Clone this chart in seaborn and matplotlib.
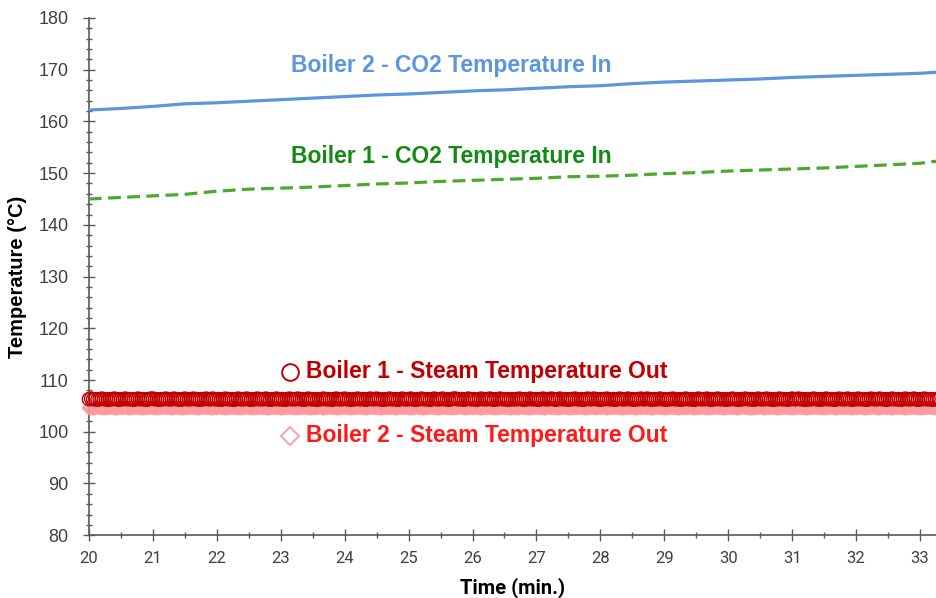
import numpy as np
import pandas as pd
import matplotlib
matplotlib.use("Agg")
import matplotlib.pyplot as plt
import seaborn as sns
from matplotlib.ticker import MultipleLocator

# CO2 inlet temperatures, read every 0.5 min
co2_time = [20.0, 20.5, 21.0, 21.5, 22.0, 22.5, 23.0, 23.5, 24.0, 24.5, 25.0, 25.5, 26.0, 26.5,
            27.0, 27.5, 28.0, 28.5, 29.0, 29.5, 30.0, 30.5, 31.0, 31.5, 32.0, 32.5, 33.0, 33.25]
boiler2_co2_in = [162.2, 162.5, 162.9, 163.4, 163.6, 163.9, 164.2, 164.5, 164.8, 165.1, 165.3, 165.6,
                  165.9, 166.1, 166.4, 166.7, 166.9, 167.3, 167.6, 167.8, 168.0, 168.2, 168.5, 168.7,
                  168.9, 169.1, 169.3, 169.5]
boiler1_co2_in = [145.0, 145.3, 145.6, 145.9, 146.5, 146.9, 147.1, 147.3, 147.6, 147.9, 148.1, 148.4,
                  148.6, 148.8, 149.0, 149.3, 149.4, 149.6, 149.9, 150.1, 150.4, 150.6, 150.8, 151.0,
                  151.3, 151.6, 151.9, 152.3]

# steam outlet temperatures, logged every 2 s
steam_time = 20 + np.arange(400) * 2 / 60
boiler1_steam_out = [
    106.3, 106.4, 106.3, 106.3, 106.2, 106.3, 106.4, 106.3, 106.3, 106.2, 106.3, 106.3, 106.4, 106.3, 106.2, 106.3, 106.3, 106.4, 106.3, 106.3,
    106.3, 106.2, 106.3, 106.4, 106.3, 106.3, 106.3, 106.2, 106.3, 106.4, 106.4, 106.3, 106.3, 106.2, 106.3, 106.3, 106.4, 106.3, 106.3, 106.3,
    106.4, 106.3, 106.3, 106.2, 106.3, 106.4, 106.3, 106.3, 106.3, 106.4, 106.3, 106.3, 106.2, 106.3, 106.3, 106.4, 106.3, 106.3, 106.4, 106.3,
    106.3, 106.3, 106.2, 106.3, 106.4, 106.3, 106.3, 106.3, 106.2, 106.3, 106.4, 106.3, 106.3, 106.3, 106.4, 106.3, 106.2, 106.3, 106.3, 106.4,
    106.3, 106.3, 106.3, 106.4, 106.3, 106.2, 106.3, 106.3, 106.4, 106.3, 106.3, 106.3, 106.2, 106.3, 106.4, 106.3, 106.3, 106.3, 106.4, 106.3,
    106.3, 106.2, 106.3, 106.4, 106.3, 106.3, 106.3, 106.2, 106.3, 106.3, 106.4, 106.3, 106.3, 106.3, 106.2, 106.3, 106.4, 106.3, 106.3, 106.3,
    106.4, 106.3, 106.3, 106.2, 106.3, 106.3, 106.4, 106.3, 106.3, 106.3, 106.2, 106.3, 106.4, 106.3, 106.3, 106.4, 106.3, 106.3, 106.2, 106.3,
    106.3, 106.4, 106.3, 106.3, 106.3, 106.2, 106.3, 106.4, 106.3, 106.3, 106.3, 106.4, 106.3, 106.2, 106.3, 106.3, 106.4, 106.3, 106.3, 106.3,
    106.2, 106.3, 106.4, 106.3, 106.3, 106.3, 106.4, 106.3, 106.3, 106.2, 106.3, 106.4, 106.4, 106.3, 106.3, 106.3, 106.2, 106.3, 106.4, 106.3,
    106.3, 106.3, 106.2, 106.3, 106.4, 106.3, 106.3, 106.3, 106.4, 106.3, 106.2, 106.3, 106.3, 106.4, 106.3, 106.3, 106.3, 106.2, 106.3, 106.3,
    106.3, 106.3, 106.4, 106.3, 106.2, 106.3, 106.3, 106.4, 106.3, 106.3, 106.3, 106.2, 106.3, 106.4, 106.3, 106.3, 106.3, 106.4, 106.3, 106.2,
    106.3, 106.4, 106.3, 106.3, 106.3, 106.2, 106.3, 106.3, 106.4, 106.3, 106.3, 106.3, 106.2, 106.3, 106.4, 106.3, 106.3, 106.4, 106.3, 106.3,
    106.2, 106.3, 106.3, 106.4, 106.3, 106.3, 106.3, 106.2, 106.3, 106.4, 106.3, 106.3, 106.3, 106.4, 106.3, 106.3, 106.2, 106.3, 106.3, 106.4,
    106.3, 106.3, 106.4, 106.3, 106.2, 106.3, 106.3, 106.3, 106.4, 106.3, 106.3, 106.2, 106.3, 106.3, 106.4, 106.3, 106.3, 106.3, 106.2, 106.3,
    106.4, 106.3, 106.3, 106.3, 106.2, 106.3, 106.4, 106.3, 106.3, 106.3, 106.4, 106.3, 106.2, 106.3, 106.3, 106.4, 106.3, 106.3, 106.3, 106.2,
    106.3, 106.3, 106.4, 106.3, 106.3, 106.2, 106.3, 106.3, 106.4, 106.3, 106.3, 106.3, 106.2, 106.3, 106.4, 106.3, 106.3, 106.3, 106.4, 106.3,
    106.3, 106.2, 106.3, 106.3, 106.4, 106.3, 106.3, 106.3, 106.2, 106.3, 106.4, 106.3, 106.3, 106.4, 106.3, 106.3, 106.2, 106.3, 106.3, 106.3,
    106.4, 106.3, 106.3, 106.2, 106.3, 106.3, 106.4, 106.3, 106.3, 106.3, 106.2, 106.3, 106.4, 106.3, 106.3, 106.3, 106.4, 106.3, 106.2, 106.3,
    106.3, 106.4, 106.3, 106.3, 106.3, 106.2, 106.3, 106.4, 106.3, 106.3, 106.3, 106.4, 106.3, 106.3, 106.2, 106.3, 106.3, 106.4, 106.3, 106.3,
    106.3, 106.2, 106.3, 106.4, 106.3, 106.3, 106.3, 106.4, 106.3, 106.2, 106.3, 106.3, 106.4, 106.3, 106.3, 106.3, 106.2, 106.3, 106.3, 106.4,
]
boiler2_steam_out = [
    104.6, 104.6, 104.5, 104.6, 104.7, 104.6, 104.6, 104.5, 104.6, 104.6, 104.7, 104.6, 104.6, 104.5, 104.6, 104.6, 104.6, 104.7, 104.6, 104.5,
    104.6, 104.6, 104.7, 104.6, 104.6, 104.5, 104.6, 104.6, 104.6, 104.7, 104.6, 104.6, 104.5, 104.6, 104.6, 104.7, 104.6, 104.6, 104.6, 104.5,
    104.6, 104.7, 104.6, 104.6, 104.5, 104.6, 104.6, 104.6, 104.7, 104.6, 104.6, 104.5, 104.6, 104.6, 104.7, 104.6, 104.6, 104.6, 104.5, 104.6,
    104.6, 104.7, 104.6, 104.6, 104.5, 104.6, 104.6, 104.7, 104.6, 104.6, 104.6, 104.5, 104.6, 104.6, 104.7, 104.6, 104.6, 104.5, 104.6, 104.6,
    104.7, 104.6, 104.6, 104.6, 104.5, 104.6, 104.6, 104.7, 104.6, 104.6, 104.5, 104.6, 104.6, 104.6, 104.7, 104.6, 104.6, 104.5, 104.6, 104.6,
    104.6, 104.7, 104.6, 104.6, 104.5, 104.6, 104.6, 104.6, 104.7, 104.6, 104.5, 104.6, 104.6, 104.7, 104.6, 104.6, 104.6, 104.5, 104.6, 104.6,
    104.7, 104.6, 104.6, 104.5, 104.6, 104.6, 104.6, 104.7, 104.6, 104.6, 104.5, 104.6, 104.6, 104.7, 104.6, 104.6, 104.6, 104.5, 104.6, 104.6,
    104.6, 104.7, 104.6, 104.6, 104.5, 104.6, 104.6, 104.7, 104.6, 104.6, 104.6, 104.5, 104.6, 104.6, 104.7, 104.6, 104.6, 104.5, 104.6, 104.6,
    104.7, 104.6, 104.6, 104.6, 104.5, 104.6, 104.6, 104.7, 104.6, 104.6, 104.5, 104.6, 104.6, 104.6, 104.7, 104.6, 104.6, 104.5, 104.6, 104.6,
    104.6, 104.7, 104.6, 104.6, 104.5, 104.6, 104.6, 104.6, 104.7, 104.6, 104.6, 104.5, 104.6, 104.6, 104.7, 104.6, 104.6, 104.6, 104.5, 104.6,
    104.6, 104.5, 104.6, 104.7, 104.6, 104.6, 104.6, 104.5, 104.6, 104.6, 104.7, 104.6, 104.6, 104.6, 104.5, 104.6, 104.7, 104.6, 104.6, 104.6,
    104.5, 104.6, 104.6, 104.7, 104.6, 104.6, 104.5, 104.6, 104.6, 104.6, 104.7, 104.6, 104.6, 104.5, 104.6, 104.6, 104.7, 104.6, 104.6, 104.6,
    104.6, 104.7, 104.6, 104.5, 104.6, 104.6, 104.6, 104.7, 104.6, 104.6, 104.5, 104.6, 104.6, 104.6, 104.7, 104.6, 104.6, 104.5, 104.6, 104.6,
    104.7, 104.6, 104.6, 104.6, 104.5, 104.6, 104.6, 104.7, 104.6, 104.6, 104.6, 104.5, 104.6, 104.7, 104.6, 104.6, 104.6, 104.5, 104.6, 104.6,
    104.6, 104.6, 104.7, 104.6, 104.5, 104.6, 104.6, 104.6, 104.7, 104.6, 104.6, 104.5, 104.6, 104.6, 104.7, 104.6, 104.6, 104.6, 104.5, 104.6,
    104.6, 104.7, 104.6, 104.6, 104.5, 104.6, 104.6, 104.7, 104.6, 104.6, 104.6, 104.5, 104.6, 104.6, 104.6, 104.7, 104.6, 104.5, 104.6, 104.6,
    104.7, 104.6, 104.6, 104.5, 104.6, 104.6, 104.6, 104.7, 104.6, 104.6, 104.5, 104.6, 104.6, 104.7, 104.6, 104.6, 104.6, 104.5, 104.6, 104.6,
    104.6, 104.7, 104.6, 104.6, 104.6, 104.5, 104.6, 104.6, 104.7, 104.6, 104.6, 104.5, 104.6, 104.6, 104.6, 104.7, 104.6, 104.6, 104.5, 104.6,
    104.6, 104.6, 104.7, 104.6, 104.5, 104.6, 104.6, 104.6, 104.7, 104.6, 104.6, 104.5, 104.6, 104.7, 104.6, 104.6, 104.6, 104.5, 104.6, 104.6,
    104.7, 104.6, 104.6, 104.5, 104.6, 104.6, 104.6, 104.7, 104.6, 104.6, 104.5, 104.6, 104.6, 104.6, 104.7, 104.6, 104.6, 104.5, 104.6, 104.6,
]

blue = "#5B96DC"
green_line = "#4EA72E"
green_text = "#138A13"
dark_red = "#C00000"
light_red = "#FF9A9E"
axis_grey = "#595959"

sns.set_style("white")
plt.rcParams["font.family"] = ["Liberation Sans", "DejaVu Sans"]

fig = plt.figure(figsize=(9.36, 5.98), dpi=100)
ax = fig.add_axes([0.095, 0.105, 0.905, 0.865])

steam = pd.DataFrame({"time": steam_time, "b1": boiler1_steam_out, "b2": boiler2_steam_out})
sns.scatterplot(data=steam, x="time", y="b2", marker="D", s=45, fc="none", ec=light_red,
                linewidth=1.1, ax=ax, zorder=3, clip_on=False)
sns.scatterplot(data=steam, x="time", y="b1", marker="o", s=90, fc="none", ec=dark_red,
                linewidth=1.0, ax=ax, zorder=4, clip_on=False)

co2 = pd.DataFrame({"time": co2_time, "b2": boiler2_co2_in, "b1": boiler1_co2_in})
sns.lineplot(data=co2, x="time", y="b2", color=blue, linewidth=2.3, ax=ax, zorder=5)
sns.lineplot(data=co2, x="time", y="b1", color=green_line, linewidth=2.3, ax=ax, zorder=5,
             dashes=False, linestyle=(0, (4, 2)))

ax.set_xlim(20, 33.25)
ax.set_ylim(80, 180)
ax.xaxis.set_major_locator(MultipleLocator(1))
ax.xaxis.set_minor_locator(MultipleLocator(0.5))
ax.yaxis.set_major_locator(MultipleLocator(10))
ax.yaxis.set_minor_locator(MultipleLocator(2))
ax.tick_params(axis="both", which="both", bottom=True, left=True)
ax.tick_params(axis="both", which="major", direction="inout", length=9, width=1,
               color=axis_grey, labelsize=13, labelcolor="#404040")
ax.tick_params(axis="both", which="minor", direction="inout", length=5, width=1, color=axis_grey)
ax.tick_params(axis="y", pad=10)
ax.tick_params(axis="x", pad=7)
for lbl in ax.get_xticklabels():
    lbl.set_family(["Roboto", "Liberation Sans", "DejaVu Sans"])
    lbl.set_fontsize(12)

sns.despine(ax=ax)
for side in ["left", "bottom"]:
    ax.spines[side].set_color(axis_grey)
    ax.spines[side].set_linewidth(1.2)

ax.set_xlabel("Time (min.)", fontsize=14.5, fontweight="bold", color="black", labelpad=8,
              family=["Roboto", "Liberation Sans", "DejaVu Sans"])
ax.set_ylabel("Temperature (°C)", fontsize=14.5, fontweight="bold", color="black", labelpad=8)

ax.text(25.67, 170.8, "Boiler 2 - CO2 Temperature In", color=blue, fontsize=16.5,
        fontweight="bold", ha="center", va="center")
ax.text(25.67, 153.3, "Boiler 1 - CO2 Temperature In", color=green_text, fontsize=16.5,
        fontweight="bold", ha="center", va="center")

ax.plot([23.14], [111.5], marker="o", ms=12, mfc="none", mec=dark_red, mew=1.4)
ax.text(23.4, 111.6, "Boiler 1 - Steam Temperature Out", color=dark_red, fontsize=16.5,
        fontweight="bold", ha="left", va="center")
ax.plot([23.14], [99.1], marker="D", ms=9, mfc="none", mec=light_red, mew=1.3)
ax.text(23.4, 99.2, "Boiler 2 - Steam Temperature Out", color="#FF1A1A", fontsize=16.5,
        fontweight="bold", ha="left", va="center")

fig.savefig("out.png", dpi=100)
